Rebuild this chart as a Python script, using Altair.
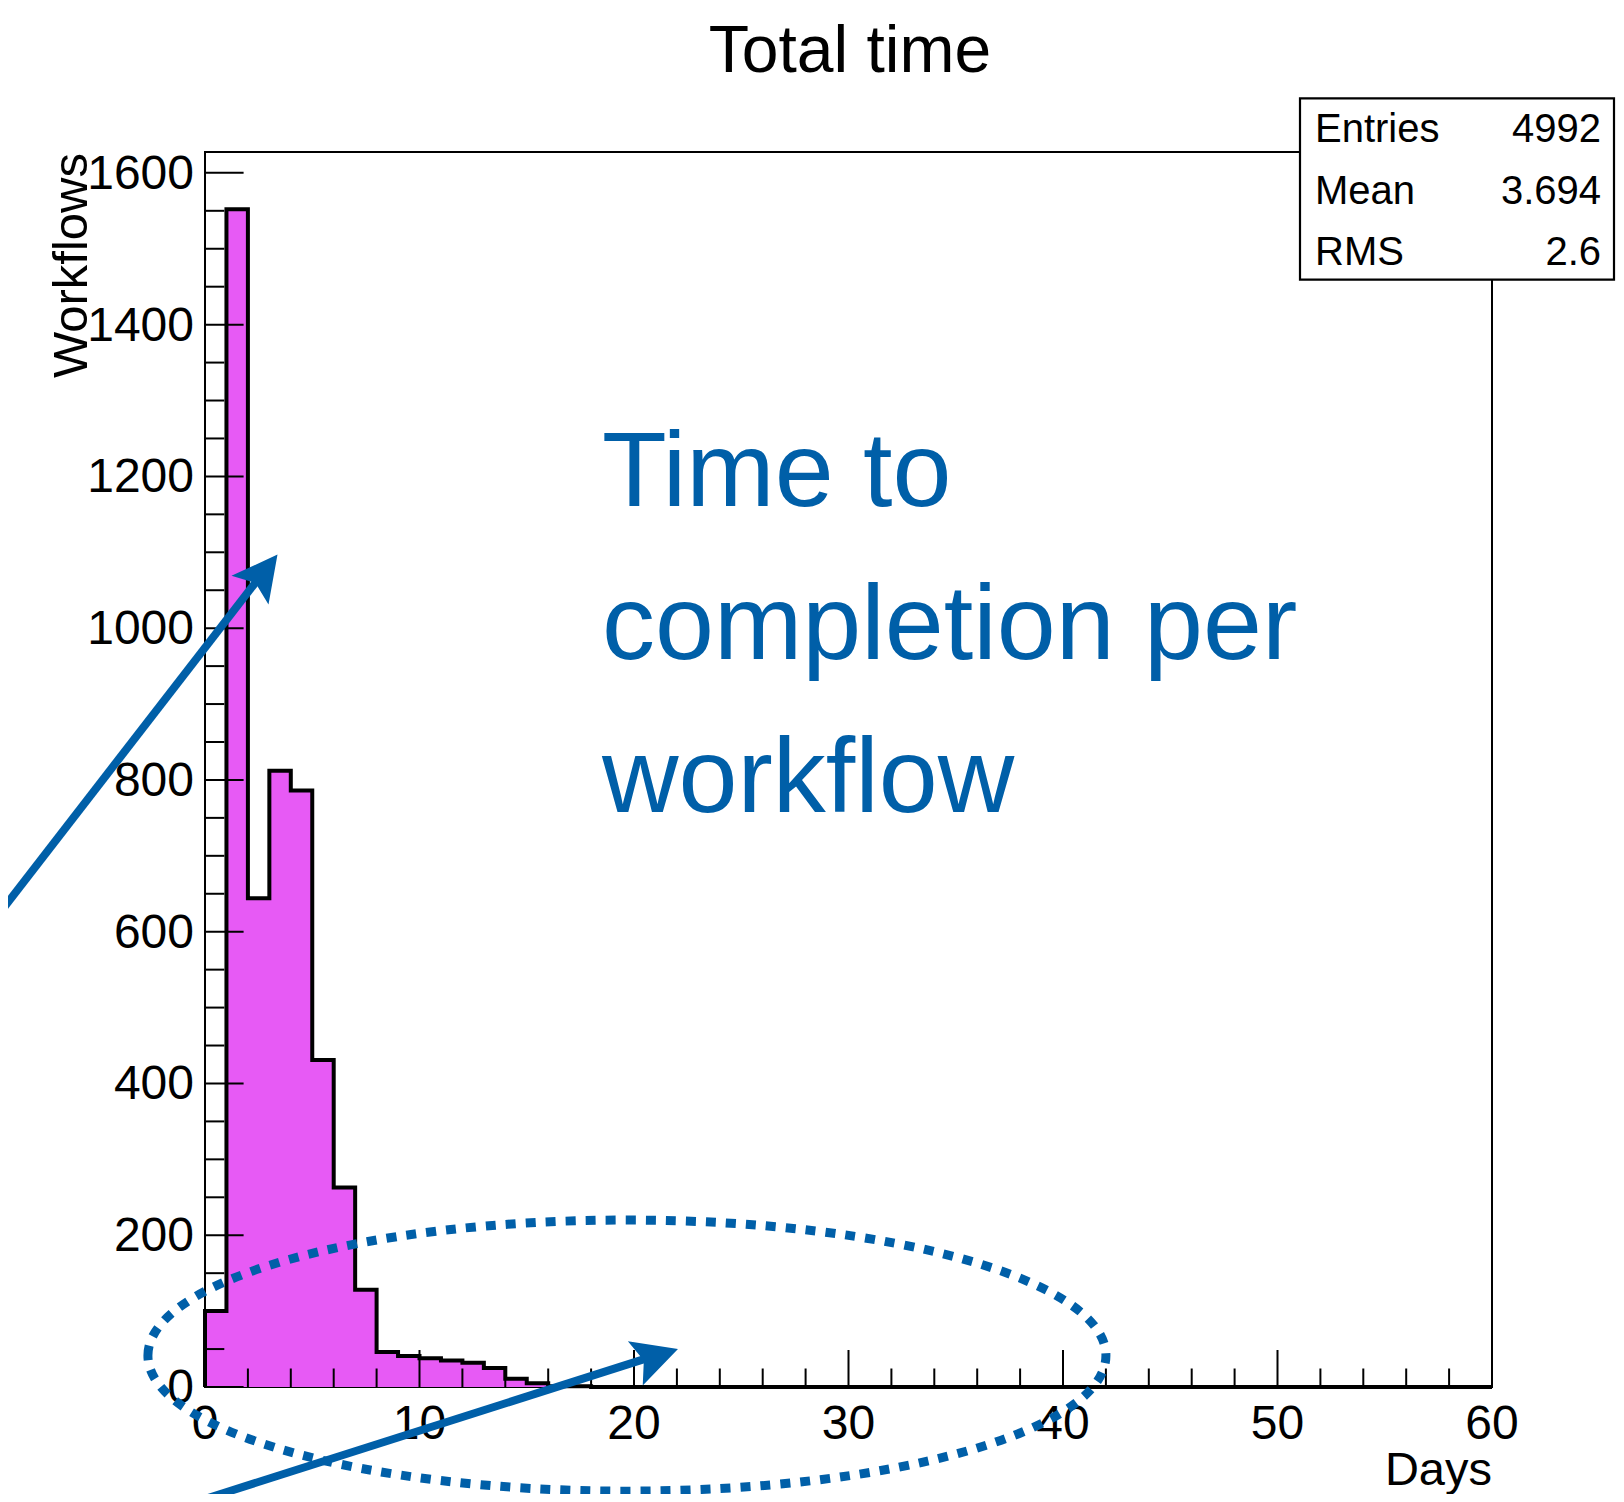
import altair as alt
import pandas as pd

FONT = "Liberation Sans"
BLUE = "#005FA8"
MAGENTA = "#E75AF5"

# plot area (pixels) and axis domains
W, H = 1287, 1235
X_MAX = 60
Y_MAX = 1627.5

# ---- histogram: one-day bins from 0 to 60 days ----
bin_left = [0, 1, 2, 3, 4, 5, 6, 7, 8, 9,
            10, 11, 12, 13, 14, 15, 16, 17, 18, 19,
            20, 21, 22, 23, 24, 25, 26, 27, 28, 29,
            30, 31, 32, 33, 34, 35, 36, 37, 38, 39,
            40, 41, 42, 43, 44, 45, 46, 47, 48, 49,
            50, 51, 52, 53, 54, 55, 56, 57, 58, 59]
counts = [100, 1552, 644, 812, 786, 431, 263, 128, 46, 41,
          38, 35, 32, 25, 11, 5, 1, 1, 0, 0,
          0, 0, 0, 0, 0, 0, 0, 0, 0, 0,
          0, 0, 0, 0, 0, 0, 0, 0, 0, 0,
          0, 0, 0, 0, 0, 0, 0, 0, 0, 0,
          0, 0, 0, 0, 0, 0, 0, 0, 0, 0]

# ---- ticks and tick labels ----
x_major = [0, 10, 20, 30, 40, 50, 60]
x_labels = ["0", "10", "20", "30", "40", "50", "60"]
x_minor = [2, 4, 6, 8, 12, 14, 16, 18, 22, 24, 26, 28,
           32, 34, 36, 38, 42, 44, 46, 48, 52, 54, 56, 58]
y_major = [0, 200, 400, 600, 800, 1000, 1200, 1400, 1600]
y_labels = ["0", "200", "400", "600", "800", "1000", "1200", "1400", "1600"]
y_minor = [50, 100, 150, 250, 300, 350, 450, 500, 550, 650, 700, 750,
           850, 900, 950, 1050, 1100, 1150, 1250, 1300, 1350, 1450, 1500, 1550]

# ---- texts ----
title_text = "Total time"
x_title = "Days"
y_title = "Workflows"
note_text = "Time to\ncompletion per\nworkflow"
stat_names = ["Entries", "Mean", "RMS"]
stat_values = ["4992", "3.694", "2.6"]

# ---- annotation anchors in data units (days, workflows) ----
arrow_tail_d = [-10.0, -1.6]
arrow_tail_c = [609, -162]
arrow_end_d = [2.51, 20.73]
arrow_end_c = [1066, 39]
arrow_tip_d = [3.38, 22.05]
arrow_tip_c = [1097, 50]
arrow_angle = [37.7, 71.5]
ellipse_d = [19.67]
ellipse_c = [41.4]

ELLIPSE_PATH = ("M -1 0 C -1 -0.1563 -0.5523 -0.283 0 -0.283 "
                "C 0.5523 -0.283 1 -0.1563 1 0 "
                "C 1 0.1563 0.5523 0.283 0 0.283 "
                "C -0.5523 0.283 -1 0.1563 -1 0 Z")
HEAD_PATH = "M 0 0 L 0.52 1 L 0 0.8 L -0.52 1 Z"

# ---- data frames ----
hist_df = pd.DataFrame({"edge": bin_left + [X_MAX],
                        "count": counts + [counts[-1]]})
outline_df = pd.DataFrame({"i": list(range(len(bin_left) + 2)),
                           "edge": [0] + bin_left + [X_MAX],
                           "count": [0] + counts + [counts[-1]]})
arrows_df = pd.DataFrame({"td": arrow_tail_d, "tc": arrow_tail_c,
                          "ed": arrow_end_d, "ec": arrow_end_c,
                          "pd": arrow_tip_d, "pc": arrow_tip_c,
                          "ang": arrow_angle})
ellipse_df = pd.DataFrame({"d": ellipse_d, "c": ellipse_c})
xlab_df = pd.DataFrame({"v": x_major, "lab": x_labels})
ylab_df = pd.DataFrame({"v": y_major, "lab": y_labels})
one = pd.DataFrame({"k": [0]})

x_scale = alt.Scale(domain=[0, X_MAX], nice=False, zero=False)
y_scale = alt.Scale(domain=[0, Y_MAX], nice=False, zero=False)


def X(field):
    return alt.X(field, scale=x_scale, axis=None)


def Y(field):
    return alt.Y(field, scale=y_scale, axis=None)


area = alt.Chart(hist_df).mark_area(
    interpolate="step-after", color=MAGENTA, opacity=1
).encode(x=X("edge:Q"), y=Y("count:Q"))

outline = alt.Chart(outline_df).mark_line(
    interpolate="step-after", color="black", strokeWidth=4, strokeJoin="miter"
).encode(x=X("edge:Q"), y=Y("count:Q"), order="i:Q")

left_frame = alt.Chart(one).mark_rule(color="black", strokeWidth=2).encode(
    x=alt.value(0), y=alt.value(0), y2=alt.value(H)
)

ytick_major = alt.Chart(pd.DataFrame({"v": y_major})).mark_rule(
    color="black", strokeWidth=2
).encode(y=Y("v:Q"), x=alt.value(0), x2=alt.value(38.6))
ytick_minor = alt.Chart(pd.DataFrame({"v": y_minor})).mark_rule(
    color="black", strokeWidth=2
).encode(y=Y("v:Q"), x=alt.value(0), x2=alt.value(19.3))
xtick_major = alt.Chart(pd.DataFrame({"v": x_major})).mark_rule(
    color="black", strokeWidth=2
).encode(x=X("v:Q"), y=alt.value(H), y2=alt.value(H - 37))
xtick_minor = alt.Chart(pd.DataFrame({"v": x_minor})).mark_rule(
    color="black", strokeWidth=2
).encode(x=X("v:Q"), y=alt.value(H), y2=alt.value(H - 18.5))

xtick_labels = alt.Chart(xlab_df).mark_text(
    font=FONT, fontSize=48, align="center", baseline="top", color="black"
).encode(x=X("v:Q"), y=alt.value(H + 14), text="lab:N")
ytick_labels = alt.Chart(ylab_df).mark_text(
    font=FONT, fontSize=48, align="right", baseline="middle", color="black", dy=2
).encode(y=Y("v:Q"), x=alt.value(-11), text="lab:N")

ellipse = alt.Chart(ellipse_df).mark_point(
    shape=ELLIPSE_PATH, size=917764, filled=False, color=BLUE, stroke=BLUE,
    strokeWidth=9, strokeDash=[10, 10], strokeCap="butt", opacity=1
).encode(x=X("d:Q"), y=Y("c:Q"))

arrow_lines = alt.Chart(arrows_df).mark_rule(
    color=BLUE, strokeWidth=8, strokeCap="butt"
).encode(x=X("td:Q"), y=Y("tc:Q"), x2="ed:Q", y2="ec:Q")
arrow_heads = alt.Chart(arrows_df).mark_point(
    shape=HEAD_PATH, size=8100, filled=True, color=BLUE, opacity=1, strokeWidth=0
).encode(x=X("pd:Q"), y=Y("pc:Q"), angle=alt.Angle("ang:Q", scale=None))

title = alt.Chart(one).mark_text(
    text=title_text, font=FONT, fontSize=66, align="center",
    baseline="alphabetic", color="black"
).encode(x=alt.value(645), y=alt.value(-80))

xlab = alt.Chart(one).mark_text(
    text=x_title, font=FONT, fontSize=47, align="right",
    baseline="alphabetic", color="black"
).encode(x=alt.value(W), y=alt.value(1333))

ylab = alt.Chart(one).mark_text(
    text=y_title, font=FONT, fontSize=49, align="right", angle=270,
    baseline="alphabetic", color="black"
).encode(x=alt.value(-118), y=alt.value(1))

note = alt.Chart(one).mark_text(
    text=note_text, lineBreak="\n", lineHeight=153, font=FONT, fontSize=106,
    align="left", baseline="alphabetic", color=BLUE
).encode(x=alt.value(397), y=alt.value(354))

stats_box = alt.Chart(one).mark_rect(
    fill="white", stroke="black", strokeWidth=2.2
).encode(x=alt.value(1095), x2=alt.value(1409), y=alt.value(-53.6), y2=alt.value(127.6))

row_y = [-10.5, 51.5, 113]
stat_layers = []
for name, val, ry in zip(stat_names, stat_values, row_y):
    stat_layers.append(alt.Chart(one).mark_text(
        text=name, font=FONT, fontSize=40, align="left",
        baseline="alphabetic", color="black"
    ).encode(x=alt.value(1110), y=alt.value(ry)))
    stat_layers.append(alt.Chart(one).mark_text(
        text=val, font=FONT, fontSize=40, align="right",
        baseline="alphabetic", color="black"
    ).encode(x=alt.value(1396), y=alt.value(ry)))

chart = alt.layer(
    area, outline, left_frame,
    ytick_minor, ytick_major, xtick_minor, xtick_major,
    xtick_labels, ytick_labels,
    ellipse, arrow_lines, arrow_heads,
    title, xlab, ylab, note, stats_box, *stat_layers
).properties(
    width=W, height=H,
    autosize=alt.AutoSizeParams(type="none"),
    padding={"left": 197, "top": 144, "right": 124, "bottom": 107},
).configure_view(stroke="black", strokeWidth=2)

chart.save("out.html", embed_options={"renderer": "svg", "actions": False})
